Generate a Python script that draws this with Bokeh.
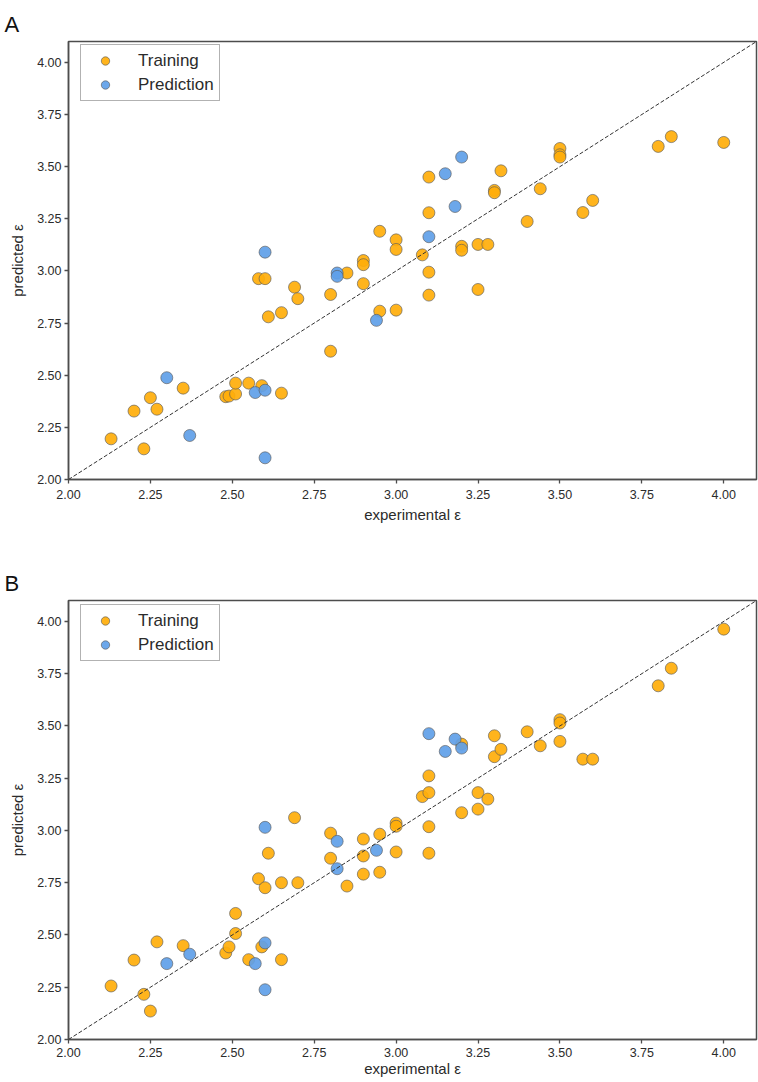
from bokeh.plotting import figure
from bokeh.layouts import column
from bokeh.models import Range1d, Slope, NumeralTickFormatter, FixedTicker
from bokeh.embed import file_html
from bokeh.resources import INLINE

# ---------------- data ----------------
axis_lim = [2.0, 4.1]
tick_vals = [2.00, 2.25, 2.50, 2.75, 3.00, 3.25, 3.50, 3.75, 4.00]

train_x = [2.13, 2.23, 2.20, 2.25, 2.27, 2.35, 2.48, 2.49, 2.51, 2.51, 2.55, 2.59, 2.65,
           2.58, 2.60, 2.61, 2.65, 2.69, 2.70, 2.80, 2.80, 2.85, 2.90, 2.90, 2.90, 2.95, 2.95,
           3.00, 3.00, 3.00, 3.08, 3.10, 3.10, 3.10, 3.10, 3.20, 3.20, 3.25, 3.25, 3.28,
           3.30, 3.30, 3.32, 3.40, 3.44, 3.50, 3.50, 3.50, 3.57, 3.60, 3.80, 3.84, 4.00]

train_a = [2.195, 2.147, 2.328, 2.392, 2.337, 2.438, 2.397, 2.400, 2.410, 2.462, 2.462, 2.450, 2.414,
           2.963, 2.963, 2.780, 2.800, 2.922, 2.867, 2.887, 2.615, 2.990, 3.050, 3.030, 2.939, 3.190, 2.807,
           3.149, 3.103, 2.812, 3.077, 3.450, 3.279, 2.994, 2.884, 3.118, 3.099, 3.127, 2.911, 3.127,
           3.386, 3.375, 3.480, 3.237, 3.394, 3.587, 3.557, 3.546, 3.280, 3.338, 3.597, 3.644, 3.616]

train_b = [2.256, 2.216, 2.380, 2.136, 2.467, 2.449, 2.414, 2.443, 2.507, 2.603, 2.382, 2.443, 2.382,
           2.769, 2.726, 2.891, 2.750, 3.061, 2.750, 2.987, 2.867, 2.734, 2.959, 2.878, 2.791, 2.982, 2.800,
           3.035, 3.020, 2.897, 3.162, 3.261, 3.181, 3.018, 2.891, 3.413, 3.085, 3.181, 3.102, 3.150,
           3.453, 3.353, 3.388, 3.472, 3.405, 3.530, 3.514, 3.426, 3.341, 3.341, 3.692, 3.776, 3.963]

pred_x = [2.30, 2.37, 2.57, 2.60, 2.60, 2.60, 2.82, 2.82, 2.94, 3.10, 3.15, 3.18, 3.20]
pred_a = [2.488, 2.211, 2.417, 2.428, 2.104, 3.090, 2.990, 2.974, 2.763, 3.164, 3.466, 3.309, 3.546]
pred_b = [2.363, 2.408, 2.363, 2.462, 2.238, 3.015, 2.948, 2.817, 2.905, 3.463, 3.378, 3.437, 3.394]

ORANGE = "#FFAE0A"
BLUE = "#5FA0E8"
FRAME = "#4d4d4d"
TXT = "#2b2b2b"
FONT = "Liberation Sans"


def make_panel(label, ty, py, height, b_top, b_bottom, x_std, x_lab_std):
    p = figure(width=758, height=height,
               x_range=Range1d(axis_lim[0], axis_lim[1]),
               y_range=Range1d(axis_lim[0], axis_lim[1]),
               output_backend="svg", toolbar_location=None,
               min_border_left=68, min_border_right=2,
               min_border_top=b_top, min_border_bottom=b_bottom,
               title=label)
    p.title.text_font = FONT
    p.title.text_font_size = "22px"
    p.title.text_font_style = "normal"
    p.title.text_color = "#111111"
    p.title.align = "left"
    p.title.offset = -64
    p.title.standoff = 10

    p.grid.visible = False
    p.background_fill_color = "white"
    p.border_fill_color = "white"
    p.outline_line_color = FRAME
    p.outline_line_width = 1.5

    for ax in (p.xaxis[0], p.yaxis[0]):
        ax.ticker = FixedTicker(ticks=tick_vals)
        ax.formatter = NumeralTickFormatter(format="0.00")
        ax.minor_tick_line_color = None
        ax.major_tick_in = 0
        ax.major_tick_out = 4
        ax.major_tick_line_color = FRAME
        ax.major_tick_line_width = 1.3
        ax.axis_line_color = FRAME
        ax.axis_line_width = 1.5
        ax.major_label_text_font = FONT
        ax.major_label_text_font_size = "12.5px"
        ax.major_label_text_color = TXT
        ax.axis_label_text_font = FONT
        ax.axis_label_text_font_size = "15px"
        ax.axis_label_text_font_style = "normal"
        ax.axis_label_text_color = TXT

    p.xaxis.axis_label = "experimental ε"
    p.yaxis.axis_label = "predicted ε"
    p.xaxis.major_label_standoff = x_std
    p.xaxis.axis_label_standoff = x_lab_std
    p.yaxis.major_label_standoff = 3
    p.yaxis.axis_label_standoff = 8

    p.add_layout(Slope(gradient=1, y_intercept=0, line_color="#333333",
                       line_width=1, line_dash="4 2"))

    p.scatter(train_x, ty, size=12, fill_color=ORANGE, fill_alpha=0.92,
              line_color="#5a5a5a", line_width=0.8, line_alpha=0.8,
              legend_label="Training")
    p.scatter(pred_x, py, size=12, fill_color=BLUE, fill_alpha=0.92,
              line_color="#5a5a5a", line_width=0.8, line_alpha=0.8,
              legend_label="Prediction")

    lg = p.legend[0]
    lg.margin = 0
    lg.location = (12, 438 - 5 - 55)
    lg.padding = 5
    lg.spacing = 3
    lg.glyph_width = 38
    lg.glyph_height = 21
    lg.label_standoff = 14
    lg.label_text_font = FONT
    lg.label_text_font_size = "17px"
    lg.label_text_color = TXT
    lg.border_line_color = "#666666"
    lg.border_line_width = 1.2
    lg.background_fill_color = "white"
    lg.background_fill_alpha = 1.0
    return p


pa = make_panel("A", train_a, pred_a, 548, 41, 69, 6, 4)
pb = make_panel("B", train_b, pred_b, 534, 52, 43, 4, 0)

layout = column(pa, pb, spacing=0)
open("out.html", "w").write(file_html(layout, INLINE))
